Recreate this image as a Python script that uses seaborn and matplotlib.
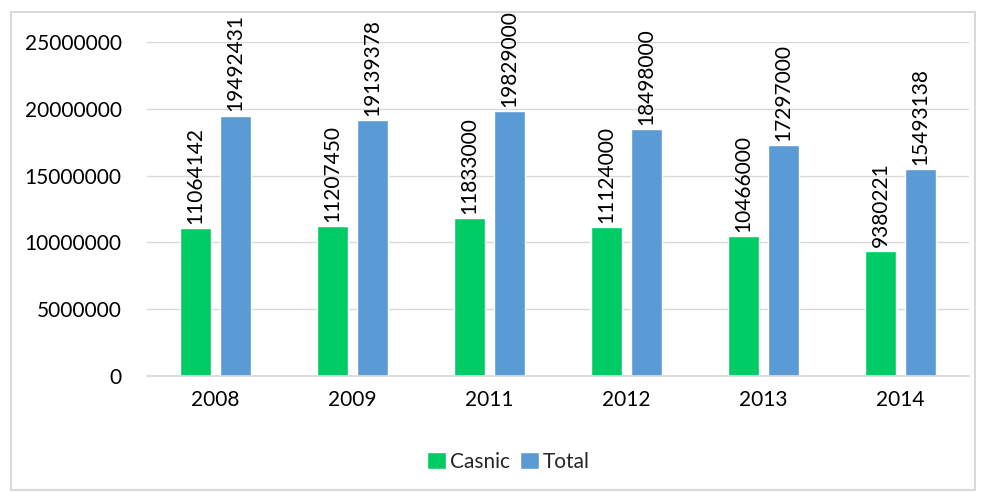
import matplotlib.pyplot as plt
import pandas as pd
import seaborn as sns
from matplotlib.patches import Rectangle
from matplotlib.ticker import StrMethodFormatter

years = ["2008", "2009", "2011", "2012", "2013", "2014"]
casnic = [11064142, 11207450, 11833000, 11124000, 10466000, 9380221]
total = [19492431, 19139378, 19829000, 18498000, 17297000, 15493138]
series_names = ["Casnic", "Total"]
colors = ["#00CC66", "#5B9BD5"]

df = pd.DataFrame(
    {
        "year": years * 2,
        "value": casnic + total,
        "serie": [series_names[0]] * len(years) + [series_names[1]] * len(years),
    }
)

sns.set_theme(style="white")
plt.rcParams["font.family"] = ["Lato", "DejaVu Sans"]

fig = plt.figure(figsize=(9.84, 4.93), dpi=100)
ax = fig.add_axes([0.149, 0.237, 0.836, 0.678])

sns.barplot(
    data=df,
    x="year",
    y="value",
    hue="serie",
    hue_order=series_names,
    palette=colors,
    width=0.585,
    gap=0.225,
    saturation=1,
    ax=ax,
)

for container in ax.containers:
    ax.bar_label(
        container,
        labels=[f"{int(v)}" for v in container.datavalues],
        rotation=90,
        padding=3,
        fontsize=15,
        color="#000000",
        clip_on=False,
    )

ax.set_ylim(0, 25000000)
ax.set_yticks(range(0, 25000001, 5000000))
ax.yaxis.set_major_formatter(StrMethodFormatter("{x:.0f}"))
ax.grid(axis="y", color="#D9D9D9", linewidth=1)
ax.set_axisbelow(True)
for side in ["top", "right", "left"]:
    ax.spines[side].set_visible(False)
ax.spines["bottom"].set_color("#D9D9D9")
ax.tick_params(axis="both", length=0, labelsize=15, colors="#000000")
ax.tick_params(axis="y", pad=18)
ax.tick_params(axis="x", pad=10)
ax.set_xlabel("")
ax.set_ylabel("")

ax.legend(
    loc="upper center",
    bbox_to_anchor=(0.44, -0.17),
    ncol=2,
    frameon=False,
    fontsize=15,
    handlelength=0.9,
    handleheight=0.9,
    handletextpad=0.2,
    columnspacing=0.5,
)

fig.patches.append(
    Rectangle(
        (0.011, 0.006), 0.98, 0.97,
        transform=fig.transFigure,
        fill=False,
        edgecolor="#D9D9D9",
        linewidth=1.5,
    )
)

fig.savefig("out.png", dpi=100)
